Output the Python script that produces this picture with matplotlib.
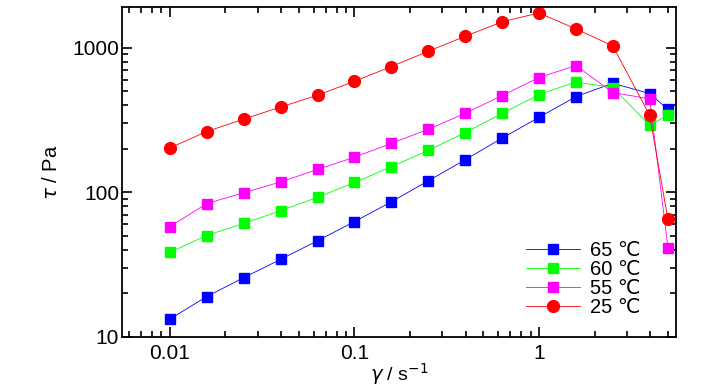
import matplotlib
matplotlib.use('Agg')
import matplotlib.pyplot as plt
from matplotlib.ticker import LogLocator, FixedLocator, FixedFormatter, NullFormatter

plt.rcParams['font.family'] = ['Liberation Sans', 'DejaVu Sans']

shear_rate = [0.01, 0.0158, 0.0251, 0.0398, 0.0631, 0.1, 0.158, 0.251, 0.398,
              0.631, 1.0, 1.585, 2.51, 3.98, 5.0]

tau_65 = [13.3, 19.0, 25.7, 34.4, 46.3, 62.7, 85.8, 120, 168, 237, 330, 459, 568, 482, 375]
tau_60 = [38.5, 50.3, 61, 74.6, 92.3, 117, 150, 195, 259, 351, 474, 580, 530, 291, 343]
tau_55 = [58, 83.5, 99.5, 118, 144, 175, 218, 273, 352, 467, 622, 753, 490, 443, 41.4]
tau_25 = [203, 263, 321, 389, 470, 586, 740, 944, 1200, 1510, 1740, 1350, 1030, 341, 65]

series = [
    ('65 \u2103', tau_65, '#0000ff', 's'),
    ('60 \u2103', tau_60, '#00ff00', 's'),
    ('55 \u2103', tau_55, '#ff00ff', 's'),
    ('25 \u2103', tau_25, '#ff0000', 'o'),
]

fig = plt.figure(figsize=(7.28, 3.9), dpi=100)
ax = fig.add_axes([0.1676, 0.136, 0.761, 0.845])

for label, values, color, marker in series:
    ms = 8.5 if marker == 'o' else 7.2
    ax.plot(shear_rate, values, color=color, lw=0.6, marker=marker, ms=ms,
            mec=color, mfc=color, label=label)

ax.set_xscale('log')
ax.set_yscale('log')
ax.set_xlim(0.0055, 5.53)
ax.set_ylim(10, 1900)

ax.xaxis.set_major_locator(FixedLocator([0.01, 0.1, 1]))
ax.xaxis.set_major_formatter(FixedFormatter(['0.01', '0.1', '1']))
ax.xaxis.set_minor_locator(LogLocator(base=10, subs=range(2, 10)))
ax.xaxis.set_minor_formatter(NullFormatter())
ax.yaxis.set_major_locator(FixedLocator([10, 100, 1000]))
ax.yaxis.set_major_formatter(FixedFormatter(['10', '100', '1000']))
ax.yaxis.set_minor_locator(LogLocator(base=10, subs=range(2, 10)))
ax.yaxis.set_minor_formatter(NullFormatter())

ax.tick_params(which='both', direction='in', top=True, right=True, width=1.2)
ax.tick_params(which='major', length=7, labelsize=15)
ax.tick_params(axis='x', which='major', pad=5)
ax.tick_params(axis='y', which='major', pad=2)
ax.tick_params(which='minor', length=4)
for spine in ax.spines.values():
    spine.set_linewidth(1.3)

ax.set_ylabel(r'$\tau$ / Pa', fontsize=14.5, labelpad=8)
ax.set_xlabel(r'$\gamma$ / s$^{-1}$', fontsize=14, labelpad=-1)

leg = ax.legend(loc='lower right', bbox_to_anchor=(0.955, 0.03), frameon=False,
                fontsize=14.5, handlelength=2.7, handletextpad=0.5,
                labelspacing=0.0, borderpad=0.0)

fig.savefig('out.png', dpi=100)
